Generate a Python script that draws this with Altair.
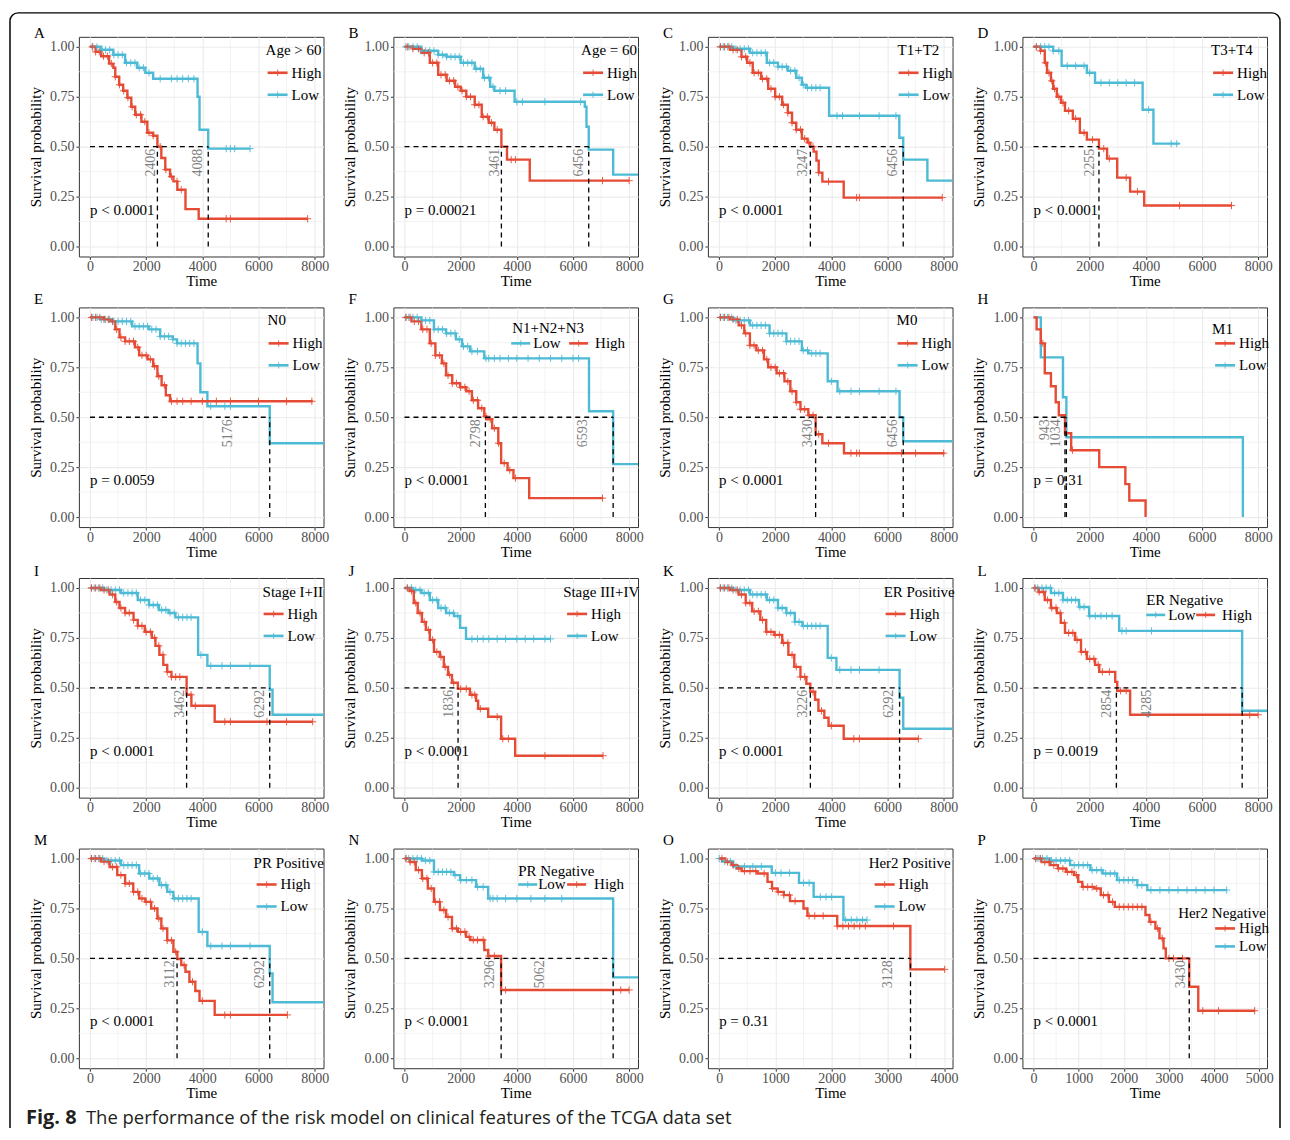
import altair as alt
import pandas as pd

RED = "#E64B35"
BLUE = "#4DBBD5"
SERIF = "Liberation Serif"
SANS = "Open Sans"

# ---------------- Panel A : Age > 60 ----------------
A_HIGH_T = [0, 200, 400, 680, 830, 900, 1040, 1180, 1330, 1470, 1610, 1830, 2040, 2250, 2400, 2540, 2680, 2850, 2970, 3110, 3400, 3870]
A_HIGH_S = [1, 0.975, 0.953, 0.916, 0.895, 0.85, 0.81, 0.78, 0.745, 0.70, 0.66, 0.625, 0.57, 0.555, 0.50, 0.443, 0.385, 0.35, 0.326, 0.284, 0.187, 0.139]
A_HIGH_END = 7750
A_HIGH_C = [80, 200, 330, 480, 620, 760, 900, 1050, 1200, 1350, 1500, 1650, 1800, 1950, 2100, 2250, 2500, 2700, 2900, 3100, 3250, 4850, 5000, 7750]
A_LOW_T = [0, 400, 830, 1250, 1680, 1970, 2250, 3830, 3900, 4210]
A_LOW_S = [1, 0.985, 0.96, 0.92, 0.895, 0.87, 0.84, 0.75, 0.585, 0.49]
A_LOW_END = 5700
A_LOW_C = [100, 250, 400, 550, 700, 850, 1000, 1150, 1300, 1450, 1600, 1750, 1900, 2100, 2500, 2900, 3100, 3300, 3500, 3700, 4850, 5000, 5150, 5700]
A_VLINES = [2400, 4210]
A_LABELS = [("2406", 2406), ("4088", 4088)]

# ---------------- Panel B : Age = 60 ----------------
B_HIGH_T = [0, 300, 600, 900, 1200, 1500, 1800, 2000, 2200, 2500, 2750, 3000, 3200, 3450, 3650, 4460]
B_HIGH_S = [1, 0.99, 0.97, 0.92, 0.86, 0.83, 0.80, 0.78, 0.75, 0.71, 0.65, 0.62, 0.585, 0.50, 0.435, 0.33]
B_HIGH_END = 8000
B_HIGH_C = [100, 300, 500, 700, 850, 1000, 1150, 1300, 1450, 1600, 1750, 1900, 2050, 2200, 2350, 2500, 2650, 2800, 2950, 3100, 3300, 3800, 3950, 7050, 8000]
B_LOW_T = [0, 600, 1200, 1500, 2000, 2500, 2800, 3050, 3200, 3920, 6420, 6480, 6560, 7430]
B_LOW_S = [1, 0.98, 0.96, 0.95, 0.92, 0.89, 0.845, 0.80, 0.78, 0.725, 0.70, 0.60, 0.485, 0.36]
B_LOW_END = 8360
B_LOW_C = [50, 150, 300, 450, 600, 750, 900, 1050, 1200, 1350, 1500, 1650, 1800, 1950, 2100, 2250, 2400, 2550, 2700, 2850, 3000, 3150, 3400, 3600, 4000, 4200, 5000, 6270]
B_VLINES = [3450, 6560]
B_LABELS = [("3461", 3461), ("6456", 6456)]

# ---------------- Panel C : T1+T2 ----------------
C_HIGH_T = [0, 400, 800, 1000, 1200, 1500, 1750, 2000, 2250, 2450, 2600, 2750, 2950, 3150, 3250, 3370, 3470, 3550, 3680, 4440]
C_HIGH_S = [1, 0.985, 0.95, 0.92, 0.87, 0.84, 0.79, 0.75, 0.71, 0.67, 0.62, 0.585, 0.54, 0.52, 0.50, 0.475, 0.43, 0.37, 0.325, 0.245]
C_HIGH_END = 7960
C_HIGH_C = [50, 200, 350, 500, 650, 800, 950, 1100, 1250, 1400, 1550, 1700, 1850, 2000, 2150, 2300, 2450, 2600, 2750, 2900, 3050, 3200, 3350, 3550, 3900, 4900, 5000, 7950]
C_LOW_T = [0, 500, 1100, 1700, 2100, 2450, 2750, 2950, 3100, 3920, 6420, 6560, 7420]
C_LOW_S = [1, 0.99, 0.97, 0.92, 0.90, 0.88, 0.845, 0.81, 0.795, 0.655, 0.545, 0.435, 0.33]
C_LOW_END = 8360
C_LOW_C = [50, 150, 300, 450, 600, 750, 900, 1050, 1200, 1350, 1500, 1650, 1800, 1950, 2100, 2250, 2400, 2550, 2700, 2850, 3000, 3150, 3300, 3450, 3600, 4200, 4400, 5000, 5700, 6300]
C_VLINES = [3253, 6560]
C_LABELS = [("3247", 3247), ("6456", 6456)]

# ---------------- Panel D : T3+T4 ----------------
D_HIGH_T = [0, 250, 400, 480, 620, 700, 830, 980, 1120, 1400, 1650, 1900, 2330, 2620, 2980, 3440, 3940]
D_HIGH_S = [1, 0.98, 0.92, 0.87, 0.83, 0.79, 0.75, 0.72, 0.68, 0.64, 0.57, 0.535, 0.49, 0.44, 0.345, 0.275, 0.205]
D_HIGH_END = 7070
D_HIGH_C = [100, 250, 420, 550, 650, 750, 900, 1050, 1250, 1500, 1800, 2100, 2500, 2700, 3300, 3700, 5200, 7050]
D_LOW_T = [0, 700, 1000, 1900, 2190, 3885, 4270]
D_LOW_S = [1, 0.98, 0.905, 0.87, 0.82, 0.685, 0.515]
D_LOW_END = 5200
D_LOW_C = [100, 250, 400, 550, 700, 900, 1200, 1500, 1800, 2000, 2400, 2700, 3000, 3300, 3600, 4100, 4900, 5100]
D_VLINES = [2330]
D_LABELS = [("2255", 2255)]

# ---------------- Panel E : N0 ----------------
E_HIGH_T = [0, 500, 700, 900, 1050, 1250, 1600, 1750, 2050, 2250, 2400, 2550, 2700, 2850]
E_HIGH_S = [1, 0.99, 0.98, 0.94, 0.90, 0.88, 0.85, 0.81, 0.79, 0.755, 0.705, 0.66, 0.61, 0.58]
E_HIGH_END = 7930
E_HIGH_C = [50, 200, 350, 500, 650, 800, 950, 1100, 1250, 1400, 1550, 1700, 1850, 2000, 2150, 2300, 2450, 2650, 2900, 3100, 3300, 3600, 4000, 4500, 5000, 6000, 7000, 7900]
E_LOW_T = [0, 400, 800, 1500, 2100, 2500, 2950, 3100, 3830, 3930, 4180, 6400]
E_LOW_S = [1, 0.99, 0.98, 0.955, 0.94, 0.905, 0.89, 0.87, 0.77, 0.625, 0.555, 0.37]
E_LOW_END = 8360
E_LOW_C = [100, 250, 400, 550, 700, 850, 1000, 1150, 1300, 1450, 1600, 1750, 1900, 2050, 2200, 2350, 2500, 2650, 2800, 2950, 3100, 3250, 3400, 3550, 3700, 4300, 4800, 5000]
E_VLINES = [6400]
E_LABELS = [("5176", 5176)]

# ---------------- Panel F : N1+N2+N3 ----------------
F_HIGH_T = [0, 250, 600, 900, 1100, 1330, 1480, 1700, 1980, 2200, 2400, 2620, 2840, 2910, 3120, 3340, 3440, 3670, 3880, 4440]
F_HIGH_S = [1, 0.98, 0.94, 0.87, 0.81, 0.77, 0.71, 0.67, 0.65, 0.63, 0.585, 0.545, 0.505, 0.49, 0.445, 0.37, 0.27, 0.235, 0.195, 0.095]
F_HIGH_END = 7070
F_HIGH_C = [50, 200, 350, 500, 650, 800, 950, 1100, 1250, 1400, 1550, 1700, 1850, 2000, 2150, 2300, 2450, 2600, 2750, 2900, 3050, 3200, 3350, 3550, 3750, 3950, 7050]
F_LOW_T = [0, 300, 600, 1050, 1480, 1830, 2050, 2340, 2840, 6570, 7430]
F_LOW_S = [1, 1.0, 0.985, 0.94, 0.92, 0.89, 0.855, 0.83, 0.795, 0.53, 0.265]
F_LOW_END = 8360
F_LOW_C = [50, 150, 300, 450, 600, 750, 900, 1050, 1200, 1350, 1500, 1650, 1800, 1950, 2100, 2250, 2400, 2600, 2900, 3000, 3200, 3400, 3700, 4000, 4400, 4800, 5200, 5600, 6000, 6200]
F_VLINES = [2880, 7430]
F_LABELS = [("2798", 2798), ("6593", 6593)]

# ---------------- Panel G : M0 ----------------
G_HIGH_T = [0, 400, 700, 900, 1100, 1330, 1600, 1750, 2050, 2330, 2540, 2750, 2900, 3180, 3440, 3680, 4450]
G_HIGH_S = [1, 0.99, 0.96, 0.92, 0.86, 0.835, 0.79, 0.75, 0.72, 0.68, 0.63, 0.575, 0.54, 0.51, 0.415, 0.37, 0.32]
G_HIGH_END = 8030
G_HIGH_C = [50, 200, 350, 500, 650, 800, 950, 1100, 1250, 1400, 1550, 1700, 1850, 2000, 2150, 2300, 2450, 2600, 2750, 2900, 3050, 3200, 3350, 3550, 3900, 4700, 4900, 5000, 6500, 7000, 8000]
G_LOW_T = [0, 500, 1100, 1800, 2400, 2950, 3180, 3870, 4220, 6430, 6560]
G_LOW_S = [1, 0.985, 0.96, 0.92, 0.88, 0.835, 0.82, 0.68, 0.63, 0.50, 0.38]
G_LOW_END = 8360
G_LOW_C = [50, 150, 300, 450, 600, 750, 900, 1050, 1200, 1350, 1500, 1650, 1800, 1950, 2100, 2250, 2400, 2550, 2700, 2850, 3000, 3150, 3300, 3450, 3600, 4000, 4300, 4700, 5000, 5700, 6300]
G_VLINES = [3440, 6560]
G_LABELS = [("3430", 3430), ("6456", 6456)]

# ---------------- Panel H : M1 ----------------
H_HIGH_T = [0, 110, 260, 400, 620, 790, 900, 1120, 1340, 2340, 3270, 3410, 3990]
H_HIGH_S = [1, 0.94, 0.87, 0.72, 0.655, 0.575, 0.51, 0.42, 0.335, 0.25, 0.165, 0.083, 0.0]
H_HIGH_END = 3990
H_HIGH_C = [330, 1390]
H_LOW_T = [0, 260, 1050, 1170, 7455]
H_LOW_S = [1, 0.80, 0.60, 0.40, 0.0]
H_LOW_END = 7455
H_LOW_C = []
H_VLINES = [1120, 1170]
H_LABELS = [("943", 640), ("1034", 1034)]

# ---------------- Panel I : Stage I+II ----------------
I_HIGH_T = [0, 400, 700, 900, 1050, 1250, 1550, 1700, 1950, 2200, 2330, 2470, 2610, 2750, 2900, 3440, 3610, 4440]
I_HIGH_S = [1, 0.99, 0.967, 0.93, 0.90, 0.875, 0.84, 0.81, 0.78, 0.75, 0.71, 0.665, 0.615, 0.58, 0.555, 0.465, 0.41, 0.33]
I_HIGH_END = 7930
I_HIGH_C = [50, 200, 350, 500, 650, 800, 950, 1100, 1250, 1400, 1550, 1700, 1850, 2000, 2150, 2300, 2450, 2600, 2750, 2900, 3050, 3200, 3600, 3750, 4800, 5000, 6300, 7000, 7930]
I_LOW_T = [0, 500, 1100, 1700, 2100, 2450, 2800, 3040, 3850, 4180, 6400, 6500]
I_LOW_S = [1, 0.99, 0.975, 0.94, 0.915, 0.89, 0.875, 0.853, 0.665, 0.61, 0.49, 0.365]
I_LOW_END = 8360
I_LOW_C = [50, 150, 300, 450, 600, 750, 900, 1050, 1200, 1350, 1500, 1650, 1800, 1950, 2100, 2250, 2400, 2550, 2700, 2850, 3000, 3150, 3300, 3450, 3600, 3950, 4300, 4700, 5000, 5700]
I_VLINES = [3440, 6400]
I_LABELS = [("3462", 3462), ("6292", 6292)]

# ---------------- Panel J : Stage III+IV ----------------
J_HIGH_T = [0, 180, 330, 470, 620, 760, 900, 1050, 1260, 1400, 1550, 1690, 1900, 2330, 2550, 2620, 2980, 3440, 3940]
J_HIGH_S = [1, 0.985, 0.925, 0.875, 0.83, 0.79, 0.74, 0.68, 0.655, 0.605, 0.565, 0.525, 0.495, 0.465, 0.435, 0.395, 0.355, 0.245, 0.16]
J_HIGH_END = 7070
J_HIGH_C = [100, 250, 400, 550, 700, 850, 1000, 1150, 1300, 1450, 1600, 1750, 2000, 2200, 2400, 2500, 2700, 3300, 3500, 3700, 5000, 7070]
J_LOW_T = [0, 300, 600, 900, 1200, 1480, 1760, 1980, 2190]
J_LOW_S = [1, 0.99, 0.975, 0.94, 0.90, 0.875, 0.86, 0.80, 0.745]
J_LOW_END = 5200
J_LOW_C = [100, 250, 400, 550, 700, 850, 1000, 1150, 1300, 1450, 1600, 1750, 1900, 2400, 2600, 2800, 3000, 3300, 3600, 4000, 4300, 4600, 5000, 5200]
J_VLINES = [1907]
J_LABELS = [("1836", 1836)]

# ---------------- Panel K : ER Positive ----------------
K_HIGH_T = [0, 400, 700, 950, 1180, 1470, 1680, 1970, 2250, 2470, 2680, 2900, 3110, 3250, 3420, 3540, 3750, 3900, 4440]
K_HIGH_S = [1, 0.99, 0.967, 0.925, 0.883, 0.84, 0.78, 0.765, 0.725, 0.665, 0.605, 0.555, 0.52, 0.48, 0.44, 0.385, 0.35, 0.31, 0.245]
K_HIGH_END = 7100
K_HIGH_C = [50, 200, 350, 500, 650, 800, 950, 1100, 1250, 1400, 1550, 1700, 1850, 2000, 2150, 2300, 2450, 2600, 2750, 2900, 3050, 3350, 3650, 4000, 4800, 5000, 7100]
K_LOW_T = [0, 500, 1100, 1700, 2100, 2400, 2700, 2970, 3870, 4180, 6430, 6560]
K_LOW_S = [1, 0.99, 0.967, 0.94, 0.90, 0.875, 0.83, 0.81, 0.65, 0.59, 0.45, 0.295]
K_LOW_END = 8360
K_LOW_C = [50, 150, 300, 450, 600, 750, 900, 1050, 1200, 1350, 1500, 1650, 1800, 1950, 2100, 2250, 2400, 2550, 2700, 2850, 3000, 3150, 3300, 3450, 3600, 4000, 4300, 4700, 5000, 5700]
K_VLINES = [3253, 6430]
K_LABELS = [("3226", 3226), ("6292", 6292)]

# ---------------- Panel L : ER Negative ----------------
L_HIGH_T = [0, 180, 400, 620, 830, 970, 1120, 1480, 1690, 1900, 2190, 2340, 2910, 2980, 3440]
L_HIGH_S = [1, 0.98, 0.94, 0.90, 0.875, 0.825, 0.775, 0.74, 0.68, 0.645, 0.615, 0.58, 0.53, 0.485, 0.365]
L_HIGH_END = 8000
L_HIGH_C = [50, 200, 350, 500, 650, 800, 950, 1100, 1250, 1400, 1550, 1700, 1850, 2000, 2150, 2300, 2450, 2700, 3100, 3300, 7700, 8000]
L_LOW_T = [0, 400, 620, 1050, 1620, 1980, 3050, 7430]
L_LOW_S = [1, 1.0, 0.975, 0.94, 0.905, 0.86, 0.785, 0.385]
L_LOW_END = 8360
L_LOW_C = [50, 150, 300, 450, 600, 750, 900, 1050, 1200, 1350, 1500, 1650, 1800, 2000, 2200, 2400, 2600, 2800, 3150, 3300, 4200]
L_VLINES = [2950, 7430]
L_LABELS = [("2854", 2854), ("4285", 4285)]

# ---------------- Panel M : PR Positive ----------------
M_HIGH_T = [0, 400, 700, 970, 1250, 1540, 1750, 1970, 2180, 2400, 2540, 2750, 2970, 3110, 3250, 3400, 3540, 3750, 3900, 4440]
M_HIGH_S = [1, 0.985, 0.958, 0.917, 0.875, 0.833, 0.80, 0.783, 0.75, 0.70, 0.65, 0.59, 0.533, 0.497, 0.467, 0.433, 0.383, 0.337, 0.287, 0.217]
M_HIGH_END = 7030
M_HIGH_C = [50, 200, 350, 500, 650, 800, 950, 1100, 1250, 1400, 1550, 1700, 1850, 2000, 2150, 2300, 2450, 2600, 2750, 2900, 3050, 3350, 3650, 4000, 4800, 5000, 7030]
M_LOW_T = [0, 500, 1100, 1750, 2110, 2470, 2750, 2970, 3870, 4180, 6400, 6500]
M_LOW_S = [1, 0.99, 0.967, 0.925, 0.90, 0.867, 0.833, 0.80, 0.633, 0.562, 0.425, 0.28]
M_LOW_END = 8360
M_LOW_C = [50, 150, 300, 450, 600, 750, 900, 1050, 1200, 1350, 1500, 1650, 1800, 1950, 2100, 2250, 2400, 2550, 2700, 2850, 3000, 3150, 3300, 3450, 3600, 4000, 4300, 4700, 5000, 5700]
M_VLINES = [3100, 6400]
M_LABELS = [("3112", 3112), ("6292", 6292)]

# ---------------- Panel N : PR Negative ----------------
N_HIGH_T = [0, 190, 400, 620, 830, 1050, 1260, 1480, 1690, 1900, 2190, 2340, 2840, 2980, 3440]
N_HIGH_S = [1, 0.983, 0.942, 0.90, 0.85, 0.783, 0.742, 0.708, 0.65, 0.633, 0.608, 0.592, 0.542, 0.512, 0.342]
N_HIGH_END = 8000
N_HIGH_C = [50, 200, 350, 500, 650, 800, 950, 1100, 1250, 1400, 1550, 1700, 1850, 2000, 2150, 2300, 2450, 2600, 2800, 3000, 3200, 3600, 7700, 8000]
N_LOW_T = [0, 400, 620, 1050, 1760, 1980, 2550, 2980, 7430]
N_LOW_S = [1, 1.0, 0.99, 0.933, 0.917, 0.892, 0.858, 0.80, 0.405]
N_LOW_END = 8360
N_LOW_C = [50, 150, 300, 450, 600, 750, 900, 1050, 1200, 1350, 1500, 1650, 1800, 2000, 2200, 2400, 2600, 2800, 3050, 3150, 3300, 3600, 4000, 4500, 5000, 5600]
N_VLINES = [3441, 7430]
N_LABELS = [("3296", 3296), ("5062", 5062)]

# ---------------- Panel O : Her2 Positive ----------------
O_HIGH_T = [0, 110, 220, 320, 400, 680, 860, 940, 1040, 1150, 1260, 1500, 1570, 2100, 3400]
O_HIGH_S = [1, 0.983, 0.967, 0.95, 0.937, 0.925, 0.883, 0.85, 0.833, 0.817, 0.787, 0.75, 0.713, 0.662, 0.445]
O_HIGH_END = 4010
O_HIGH_C = [50, 150, 250, 350, 450, 550, 650, 800, 950, 1050, 1150, 1250, 1350, 1600, 1700, 1850, 2100, 2200, 2300, 2400, 2500, 2600, 3100, 4010]
O_LOW_T = [0, 50, 250, 935, 1420, 1680, 2210]
O_LOW_S = [1, 0.985, 0.96, 0.928, 0.878, 0.808, 0.692]
O_LOW_END = 2630
O_LOW_C = [0, 100, 200, 300, 450, 600, 750, 1000, 1100, 1250, 1500, 1600, 1800, 1900, 2000, 2250, 2350, 2450, 2550, 2630]
O_VLINES = [3403]
O_LABELS = [("3128", 3128)]

# ---------------- Panel P : Her2 Negative ----------------
P_HIGH_T = [0, 180, 360, 540, 720, 900, 990, 1080, 1350, 1490, 1670, 1800, 2480, 2570, 2700, 2790, 2880, 2930, 3450, 3650]
P_HIGH_S = [1, 0.983, 0.967, 0.95, 0.933, 0.917, 0.883, 0.858, 0.85, 0.817, 0.783, 0.758, 0.717, 0.683, 0.65, 0.60, 0.55, 0.50, 0.358, 0.238]
P_HIGH_END = 4910
P_HIGH_C = [50, 150, 250, 350, 450, 550, 650, 750, 850, 950, 1100, 1200, 1300, 1400, 1550, 1650, 1750, 1900, 2000, 2100, 2200, 2300, 2400, 2600, 2750, 2850, 3000, 3100, 3300, 3750, 4100, 4900]
P_LOW_T = [0, 360, 810, 1260, 1530, 1850, 2300, 2520]
P_LOW_S = [1, 0.99, 0.967, 0.942, 0.925, 0.892, 0.867, 0.842]
P_LOW_END = 4280
P_LOW_C = [50, 100, 150, 200, 300, 400, 500, 600, 700, 800, 900, 1000, 1100, 1200, 1300, 1400, 1500, 1600, 1700, 1800, 1900, 2000, 2100, 2200, 2300, 2400, 2600, 2800, 3000, 3200, 3400, 3600, 3800, 4000, 4280]
P_VLINES = [3450]
P_LABELS = [("3430", 3430)]

LETTERS = list("ABCDEFGHIJKLMNOP")
TITLES = ["Age > 60", "Age = 60", "T1+T2", "T3+T4", "N0", "N1+N2+N3", "M0", "M1",
          "Stage I+II", "Stage III+IV", "ER Positive", "ER Negative",
          "PR Positive", "PR Negative", "Her2 Positive", "Her2 Negative"]
PVALUES = ["p < 0.0001", "p = 0.00021", "p < 0.0001", "p < 0.0001", "p = 0.0059", "p < 0.0001",
           "p < 0.0001", "p = 0.31", "p < 0.0001", "p < 0.0001", "p < 0.0001", "p = 0.0019",
           "p < 0.0001", "p < 0.0001", "p = 0.31", "p < 0.0001"]
X_TICKS_8000 = [0, 2000, 4000, 6000, 8000]
X_MINOR_8000 = [1000, 3000, 5000, 7000]
X_TICKS_O = [0, 1000, 2000, 3000, 4000]
X_MINOR_O = [500, 1500, 2500, 3500]
X_TICKS_P = [0, 1000, 2000, 3000, 4000, 5000]
X_MINOR_P = [500, 1500, 2500, 3500, 4500]
Y_TICKS = [0, 0.25, 0.5, 0.75, 1.0]
Y_MINOR = [0.125, 0.375, 0.625, 0.875]
CAPTION_BOLD = "Fig. 8"
CAPTION_TEXT = "The performance of the risk model on clinical features of the TCGA data set"

G = globals()


def vleg(tx, ty, kx, yh=36, yl=58, klen=20, gap=4):
    return dict(tx=tx, ty=ty, items=[("High", RED, kx, kx + klen, kx + klen + gap, yh),
                                     ("Low", BLUE, kx, kx + klen, kx + klen + gap, yl)])


def hleg(tx, ty, low_k, low_t, high_k, high_t, y=36):
    return dict(tx=tx, ty=ty, items=[("Low", BLUE, low_k, low_k + 19, low_t, y),
                                     ("High", RED, high_k, high_k + 19, high_t, y)])


LEGENDS = {
    "A": vleg(187, 13, 189), "B": vleg(188, 13, 190), "C": vleg(190, 13, 191), "D": vleg(189, 13, 191),
    "E": vleg(189, 13, 190), "F": hleg(119, 21, 118, 140, 176, 202), "G": vleg(189, 13, 190),
    "H": vleg(190, 22, 193),
    "I": vleg(184, 14, 185), "J": vleg(170, 14, 174), "K": vleg(176, 14, 178),
    "L": hleg(124, 22, 124, 146, 174, 200, 37),
    "M": vleg(175, 14, 178), "N": hleg(125, 22, 125, 145, 174, 201),
    "O": vleg(161, 14, 167), "P": vleg(156, 65, 193, 80, 98),
}
LETTER_Y = [-4, -8, -7, -9]

DUMMY = pd.DataFrame({"d": [0]})
CROSS = "M-1,0L1,0M0,-1L0,1"


def step_value(ts, ss, c):
    v = ss[0]
    for ti, si in zip(ts, ss):
        if ti <= c:
            v = si
    return v


def text_at(txt, x, y, size=15, color="black", font=SERIF, weight="normal", align="left", baseline="middle"):
    return alt.Chart(DUMMY).mark_text(text=txt, align=align, baseline=baseline, font=font,
                                      fontSize=size, color=color, fontWeight=weight).encode(
        x=alt.value(x), y=alt.value(y))


def frame_layers():
    # figure border (left, top, right edges with rounded top corners), relative to panel A plot area
    lw = 1.5
    out = [
        alt.Chart(DUMMY).mark_rule(color="black", strokeWidth=lw).encode(
            x=alt.value(-69), y=alt.value(-16), y2=alt.value(1093)),
        alt.Chart(DUMMY).mark_rule(color="black", strokeWidth=lw).encode(
            x=alt.value(-61), x2=alt.value(1195), y=alt.value(-24)),
        alt.Chart(DUMMY).mark_rule(color="black", strokeWidth=lw).encode(
            x=alt.value(1203), y=alt.value(-16), y2=alt.value(1093)),
        alt.Chart(DUMMY).mark_arc(radius=8.75, radius2=7.25, theta=4.712389, theta2=6.283185,
                                  color="black").encode(x=alt.value(-61), y=alt.value(-16)),
        alt.Chart(DUMMY).mark_arc(radius=8.75, radius2=7.25, theta=0.0, theta2=1.570796,
                                  color="black").encode(x=alt.value(1195), y=alt.value(-16)),
    ]
    return out


def make_panel(i):
    L = LETTERS[i]
    row = i // 4
    if L == "O":
        xdom, xt, xm = [-200, 4150], X_TICKS_O, X_MINOR_O
    elif L == "P":
        xdom, xt, xm = [-246, 5173], X_TICKS_P, X_MINOR_P
    else:
        xdom, xt, xm = [-396, 8315], X_TICKS_8000, X_MINOR_8000
    xsc = alt.Scale(domain=xdom, nice=False, zero=False)
    ysc = alt.Scale(domain=[-0.05, 1.05], nice=False, zero=False)
    common = dict(grid=True, gridColor="#EBEBEB", gridWidth=1.1, domain=False, ticks=True,
                  tickColor="#333333", tickSize=3, tickWidth=1, labelFont=SERIF, labelFontSize=14,
                  labelColor="#4D4D4D", titleFont=SERIF, titleFontSize=15, titleFontWeight="normal",
                  titleColor="black", labelFlush=False, labelOverlap=False)
    xax = alt.Axis(values=xt, format="d", title="Time", labelPadding=0, titlePadding=0, **common)
    yax = alt.Axis(values=Y_TICKS, format=".2f", title="Survival probability", labelPadding=2,
                   titlePadding=6, **common)
    X = alt.X("t:Q", scale=xsc, axis=xax)
    Y = alt.Y("s:Q", scale=ysc, axis=yax)
    col = alt.Color("g:N", scale=alt.Scale(domain=["High", "Low"], range=[RED, BLUE]), legend=None)

    layers = []
    layers.append(alt.Chart(pd.DataFrame({"t": xm})).mark_rule(color="#EBEBEB", strokeWidth=0.6).encode(x=X))
    layers.append(alt.Chart(pd.DataFrame({"s": Y_MINOR})).mark_rule(color="#EBEBEB", strokeWidth=0.6).encode(y=Y))

    curves, cens = [], []
    for grp, key in (("Low", "LOW"), ("High", "HIGH")):
        ts = G[f"{L}_{key}_T"]
        ss = G[f"{L}_{key}_S"]
        end = G[f"{L}_{key}_END"]
        cs = G[f"{L}_{key}_C"]
        tt = list(ts) + ([end] if end > ts[-1] else [])
        sv = list(ss) + ([ss[-1]] if end > ts[-1] else [])
        curves.append(pd.DataFrame({"t": tt, "s": sv, "g": grp}))
        if cs:
            cens.append(pd.DataFrame({"t": cs, "s": [step_value(ts, ss, c) for c in cs], "g": grp}))
    cdf = pd.concat(curves, ignore_index=True)
    layers.append(alt.Chart(cdf).mark_line(interpolate="step-after", strokeWidth=2.4, clip=True).encode(
        x=X, y=Y, color=col, detail="g:N"))
    if cens:
        kdf = pd.concat(cens, ignore_index=True)
        layers.append(alt.Chart(kdf).mark_point(shape=CROSS, filled=False, size=52, strokeWidth=1,
                                                opacity=0.9, clip=True).encode(x=X, y=Y, color=col))

    vl = G[f"{L}_VLINES"]
    hmax = max(vl)
    layers.append(alt.Chart(pd.DataFrame({"t": [0], "t2": [hmax], "s": [0.5]})).mark_rule(
        color="black", strokeDash=[5, 4], strokeWidth=1.3).encode(x=X, x2="t2:Q", y=Y))
    layers.append(alt.Chart(pd.DataFrame({"t": vl, "s": [0.0] * len(vl), "s2": [0.5] * len(vl)})).mark_rule(
        color="black", strokeDash=[5, 4], strokeWidth=1.3).encode(x=X, y=Y, y2="s2:Q"))
    labs = G[f"{L}_LABELS"]
    layers.append(alt.Chart(pd.DataFrame({"t": [p[1] for p in labs], "s": [0.5] * len(labs),
                                          "lab": [p[0] for p in labs]})).mark_text(
        angle=270, align="right", baseline="bottom", dx=-2, font=SERIF, fontSize=14, color="#7F7F7F").encode(
        x=X, y=Y, text="lab:N"))
    layers.append(alt.Chart(pd.DataFrame({"t": [0], "s": [0.185], "lab": [PVALUES[i]]})).mark_text(
        align="left", baseline="middle", font=SERIF, fontSize=15, color="black").encode(x=X, y=Y, text="lab:N"))

    # legend drawn inside the panel
    lg = LEGENDS[L]
    layers.append(text_at(TITLES[i], lg["tx"], lg["ty"]))
    for lab, c, k1, k2, tx, y in lg["items"]:
        layers.append(alt.Chart(DUMMY).mark_rule(color=c, strokeWidth=2.6).encode(
            x=alt.value(k1), x2=alt.value(k2), y=alt.value(y)))
        layers.append(alt.Chart(DUMMY).mark_point(shape=CROSS, filled=False, size=40, strokeWidth=1.2,
                                                  color=c).encode(x=alt.value((k1 + k2) / 2), y=alt.value(y)))
        layers.append(text_at(lab, tx, y))

    # panel letter
    layers.append(text_at(L, -45, LETTER_Y[row]))

    if L == "A":
        layers.extend(frame_layers())
    if L == "M":
        layers.append(text_at(CAPTION_BOLD, -53, 276, size=20, color="#231F20", font=SANS, weight="bold",
                              baseline="alphabetic"))
        layers.append(text_at(CAPTION_TEXT, 7, 276, size=18.5, color="#231F20", font=SANS,
                              baseline="alphabetic"))

    return alt.layer(*layers).properties(width=245, height=220)


panels = [make_panel(i) for i in range(16)]

chart = alt.concat(*panels, columns=4, spacing={"row": 51, "column": 70}, bounds="flush",
                   padding={"left": 0, "top": 2, "right": 0, "bottom": 0}).configure_view(
    stroke="#333333", strokeWidth=1)

chart.save("out.html", embed_options={"renderer": "svg", "actions": False})
